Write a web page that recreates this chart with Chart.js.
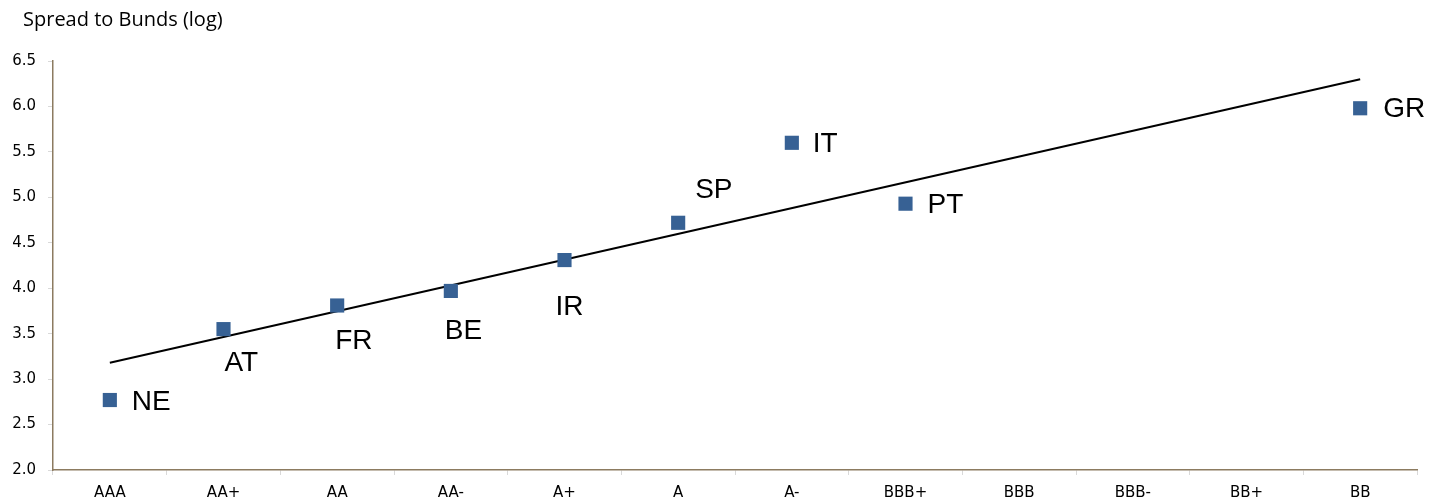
<!DOCTYPE html>
<html>
<head>
<meta charset="utf-8">
<title>Spread to Bunds (log)</title>
<script src="https://cdn.jsdelivr.net/npm/chart.js@4.4.1/dist/chart.umd.min.js"></script>
<style>
  html, body { margin: 0; padding: 0; background: #ffffff; }
  #wrap { width: 1437px; height: 499px; position: relative; }
</style>
</head>
<body>
<div id="wrap"><canvas id="chart" width="1437" height="499"></canvas></div>
<script>
// Rating scale along the x axis
const ratingScale = ['AAA', 'AA+', 'AA', 'AA-', 'A+', 'A', 'A-', 'BBB+', 'BBB', 'BBB-', 'BB+', 'BB'];

// Country, its rating and its spread to Bunds (log)
const countries = ['NE', 'AT', 'FR', 'BE', 'IR', 'SP', 'IT', 'PT', 'GR'];
const ratings   = ['AAA', 'AA+', 'AA', 'AA-', 'A+', 'A', 'A-', 'BBB+', 'BB'];
const spreads   = [2.77, 3.55, 3.81, 3.97, 4.31, 4.72, 5.60, 4.93, 5.98];

// Fitted trend line, from the first to the last rating
const trendRatings = ['AAA', 'BB'];
const trendValues  = [3.18, 6.30];

// Y axis ticks
const yTicks = { min: 2.0, max: 6.5, step: 0.5 };

// Where each country label sits relative to its marker (text left edge, text middle)
const labelOffsets = {
  NE: [22, 2], AT: [1, 34], FR: [-2, 36], BE: [-6, 40], IR: [-9, 47],
  SP: [17, -33], IT: [21, 1], PT: [22, 2], GR: [23, 1]
};

const pointData = countries.map((c, i) => ({ x: ratings[i], y: spreads[i] }));
const trendData = trendRatings.map((r, i) => ({ x: r, y: trendValues[i] }));

const countryLabels = {
  id: 'countryLabels',
  afterDatasetsDraw(chart) {
    const ctx = chart.ctx;
    const meta = chart.getDatasetMeta(1);
    ctx.save();
    ctx.font = '28px "Liberation Sans", Arial, sans-serif';
    ctx.fillStyle = '#000000';
    ctx.textAlign = 'left';
    ctx.textBaseline = 'middle';
    meta.data.forEach((pt, i) => {
      const name = countries[i];
      const off = labelOffsets[name] || [20, 0];
      ctx.fillText(name, pt.x + off[0], pt.y + off[1]);
    });
    ctx.restore();
  }
};

const cornerTitle = {
  id: 'cornerTitle',
  afterDraw(chart) {
    const ctx = chart.ctx;
    ctx.save();
    ctx.font = '20px "Open Sans", sans-serif';
    ctx.fillStyle = '#000000';
    ctx.textAlign = 'left';
    ctx.textBaseline = 'middle';
    ctx.fillText('Spread to Bunds (log)', 23, 20);
    ctx.restore();
  }
};

const tickFont = { family: '"DejaVu Sans", sans-serif', size: 15 };

new Chart(document.getElementById('chart'), {
  type: 'line',
  data: {
    labels: ratingScale,
    datasets: [
      {
        label: 'Trend',
        data: trendData,
        borderColor: '#000000',
        borderWidth: 2,
        pointRadius: 0,
        fill: false,
        tension: 0,
        order: 1
      },
      {
        label: 'Countries',
        data: pointData,
        showLine: false,
        pointStyle: 'rect',
        pointRadius: 10,
        pointBackgroundColor: '#376194',
        pointBorderColor: '#376194',
        pointBorderWidth: 0,
        order: 0
      }
    ]
  },
  options: {
    responsive: false,
    animation: false,
    layout: { padding: { top: 61, right: 20, left: 0, bottom: 0 } },
    plugins: {
      legend: { display: false },
      tooltip: { enabled: false },
      title: { display: false }
    },
    scales: {
      x: {
        type: 'category',
        offset: true,
        grid: {
          offset: true,
          drawOnChartArea: false,
          drawTicks: true,
          tickLength: 5,
          color: '#d9d9d9'
        },
        border: { color: '#8c7b60', width: 1.5 },
        ticks: {
          color: '#000000',
          font: tickFont,
          padding: 9,
          maxRotation: 0,
          autoSkip: false
        },
        afterFit(scale) { scale.height = 29; }
      },
      y: {
        min: yTicks.min,
        max: yTicks.max,
        grid: {
          drawOnChartArea: false,
          drawTicks: true,
          tickLength: 5,
          color: '#d9d9d9'
        },
        border: { color: '#8c7b60', width: 1.5 },
        ticks: {
          stepSize: yTicks.step,
          color: '#000000',
          font: tickFont,
          padding: 12,
          callback: (v) => Number(v).toFixed(1)
        },
        afterFit(scale) { scale.width = 53; }
      }
    }
  },
  plugins: [countryLabels, cornerTitle]
});
</script>
</body>
</html>
